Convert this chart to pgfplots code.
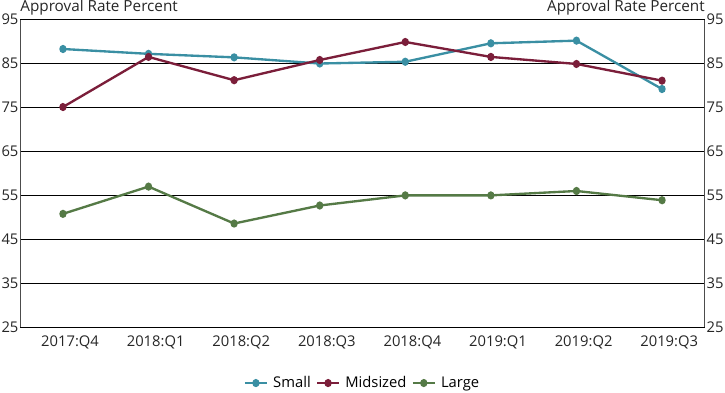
\documentclass[border=0pt]{standalone}
\usepackage{fontspec}
\setmainfont{Open Sans}
\usepackage{pgfplots}
\pgfplotsset{compat=1.18}
\definecolor{cSmall}{HTML}{3A8FA3}
\definecolor{cMid}{HTML}{7B1E3A}
\definecolor{cLarge}{HTML}{557A46}
\pgfplotstableread{
x small mid large
0 88.3 75.1 50.8
1 87.2 86.5 57.0
2 86.4 81.2 48.6
3 85.0 85.8 52.7
4 85.4 89.9 55.0
5 89.6 86.5 55.0
6 90.2 84.9 56.0
7 79.2 81.1 53.9
}\datatable
\begin{document}
\begin{tikzpicture}
\pgfplotsset{common/.style={
  scale only axis, width=672pt, height=302pt,
  xmin=-0.5, xmax=7.5, ymin=25, ymax=95,
  ytick={25,35,45,55,65,75,85,95},
  /pgf/number format/assume math mode=true,
  tick style={draw=none},
  ticklabel style={font=\fontsize{14.5}{16}\selectfont, text=black!85},
  yticklabel style={inner xsep=1.5pt},
}}
\begin{axis}[common, name=ax,
  axis x line*=bottom, axis y line*=left,
  axis line style={black!70, line width=1pt},
  x axis line style={-, black, line width=1pt},
  y axis line style={-},
  xtick={0,...,7},
  xticklabels={2017:Q4,2018:Q1,2018:Q2,2018:Q3,2018:Q4,2019:Q1,2019:Q2,2019:Q3},
  xticklabel style={yshift=-5pt, xshift=7pt},
  ymajorgrids, grid style={black, line width=0.8pt},
  legend style={at={(0.5,-0.15)}, anchor=north, legend columns=-1, draw=none,
    font=\fontsize{14.5}{16}\selectfont, column sep=3pt, inner sep=1pt},
  legend image code/.code={
    \draw[#1, mark repeat=2, mark phase=2] plot coordinates {(0cm,0cm) (0.38cm,0cm) (0.76cm,0cm)};},
  every axis plot/.append style={line width=2.3pt, mark=*, mark size=2.8pt, mark options={xscale=0.85, solid}},
]
\addplot[cSmall] table[x=x, y=small] {\datatable};
\addlegendentry{Small}
\addplot[cMid] table[x=x, y=mid] {\datatable};
\addlegendentry{Midsized}
\addplot[cLarge] table[x=x, y=large] {\datatable};
\addlegendentry{Large}
\end{axis}
\begin{axis}[common,
  axis x line=none, axis y line*=right,
  axis line style={-, black!70, line width=1pt},
  xtick=\empty,
]
\end{axis}
\node[anchor=south west, inner sep=0pt, font=\fontsize{15}{17}\selectfont, text=black!85, yshift=4pt] at (ax.north west) {Approval Rate Percent};
\node[anchor=south east, inner sep=0pt, font=\fontsize{15}{17}\selectfont, text=black!85, yshift=4pt] at (ax.north east) {Approval Rate Percent};
\end{tikzpicture}
\end{document}
